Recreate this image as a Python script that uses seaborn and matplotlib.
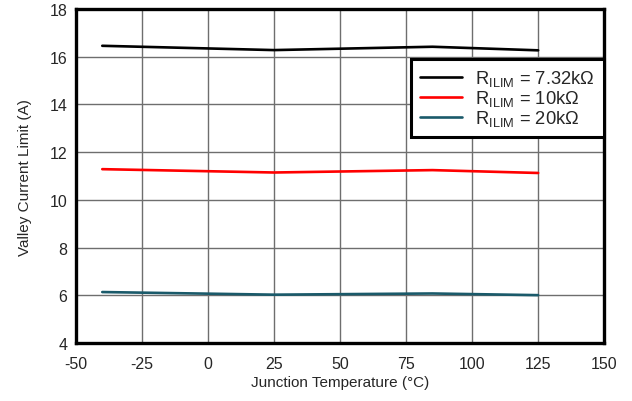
import matplotlib
matplotlib.use("Agg")
import matplotlib.pyplot as plt
import seaborn as sns
import pandas as pd

# Valley current limit vs junction temperature for three RILIM values
temps = [-40, 25, 85, 125]
ilim_732k = [16.46, 16.28, 16.42, 16.27]
ilim_10k = [11.29, 11.15, 11.25, 11.13]
ilim_20k = [6.14, 6.03, 6.08, 6.01]
labels = [r"R$_{\mathrm{ILIM}}$ = 7.32k$\Omega$",
          r"R$_{\mathrm{ILIM}}$ = 10k$\Omega$",
          r"R$_{\mathrm{ILIM}}$ = 20k$\Omega$"]
colors = ["#000000", "#ff0000", "#1a5a6a"]
x_ticks = [-50, -25, 0, 25, 50, 75, 100, 125, 150]
y_ticks = [4, 6, 8, 10, 12, 14, 16, 18]

sns.set_style("white")
plt.rcParams["font.family"] = ["Liberation Sans", "DejaVu Sans"]
plt.rcParams["mathtext.fontset"] = "custom"
plt.rcParams["mathtext.rm"] = "Liberation Sans"
plt.rcParams["mathtext.it"] = "Liberation Sans:italic"
plt.rcParams["axes.unicode_minus"] = False

rows = []
for lab, vals in zip(labels, [ilim_732k, ilim_10k, ilim_20k]):
    for t, v in zip(temps, vals):
        rows.append({"T": t, "I": v, "R": lab})
df = pd.DataFrame(rows)

fig = plt.figure(figsize=(6.32, 4.02), dpi=100)
ax = fig.add_axes([0.120, 0.144, 0.836, 0.831])

sns.lineplot(data=df, x="T", y="I", hue="R", hue_order=labels,
             palette=colors, linewidth=1.9, ax=ax)

ax.set_xlim(-50, 150)
ax.set_ylim(4, 18)
ax.set_xticks(x_ticks)
ax.set_yticks(y_ticks)
ax.tick_params(axis="x", labelsize=11.5, length=0, pad=9)
ax.tick_params(axis="y", labelsize=11.5, length=0, pad=6)
ax.grid(True, color="#6e6e6e", linewidth=1.0)
ax.set_axisbelow(True)
for s in ax.spines.values():
    s.set_linewidth(2.4)
    s.set_color("black")
ax.set_xlabel("Junction Temperature (°C)", fontsize=11, labelpad=3)
ax.set_ylabel("Valley Current Limit (A)", fontsize=11, labelpad=13)

leg = ax.legend(loc="upper right", bbox_to_anchor=(1.0, 0.85),
                fontsize=13.2, frameon=True, fancybox=False,
                handlelength=2.3, borderpad=0.5, labelspacing=0.0,
                handletextpad=0.7, borderaxespad=0)
leg.get_frame().set_edgecolor("black")
leg.get_frame().set_linewidth(2.2)
leg.get_frame().set_alpha(1)

fig.savefig("out.png", dpi=100)
